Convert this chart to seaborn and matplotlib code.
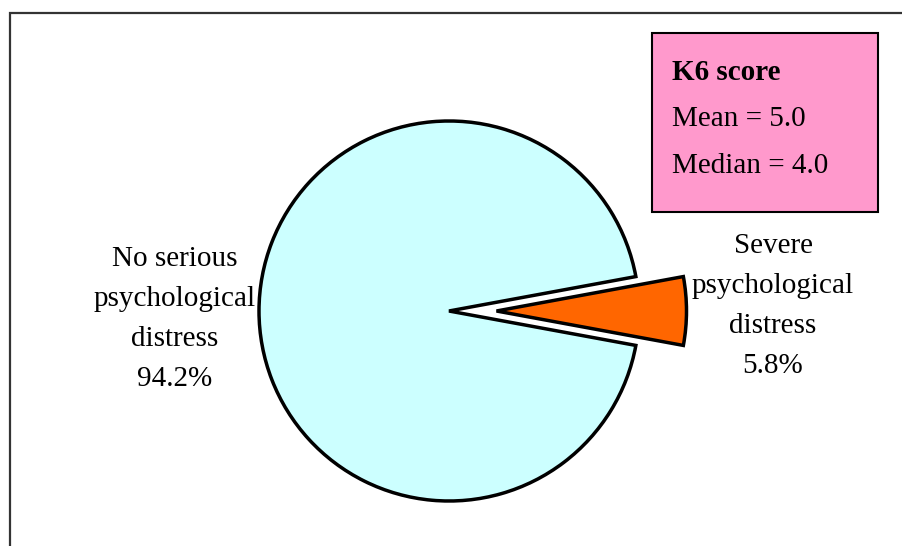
import matplotlib
matplotlib.use("Agg")
import matplotlib.pyplot as plt
from matplotlib.patches import Rectangle
import seaborn as sns

# Data
categories = ["Severe\npsychological\ndistress", "No serious\npsychological\ndistress"]
shares = [5.8, 94.2]
colors = ["#FF6600", "#CCFFFF"]
stats_title = "K6 score"
stats_lines = ["Mean = 5.0", "Median = 4.0"]

sns.set_style("white")
plt.rcParams["font.family"] = ["Liberation Serif", "DejaVu Serif"]
plt.rcParams["text.color"] = "black"

W, H = 902, 546
fig = plt.figure(figsize=(W / 100, H / 100), dpi=100)
ax = fig.add_axes([0, 0, 1, 1])

# outer frame (runs off right and bottom)
ax.add_patch(Rectangle((10, -20), 1000, H - 13 + 20, fill=False,
                       edgecolor="#333333", lw=1.6))

# pie: severe slice centred at 0 degrees, pulled out to the right
radius = 190
start = -shares[0] / sum(shares) * 360 / 2
ax.pie(shares, colors=colors, startangle=start, counterclock=True,
       explode=[0.25 * radius, 0], center=(449, H - 311), radius=radius,
       wedgeprops=dict(edgecolor="black", linewidth=2.5), frame=True)
ax.set_xlim(0, W)
ax.set_ylim(0, H)
ax.set_aspect("equal")
ax.axis("off")

fs = 21
ax.text(175, H - 319, f"{categories[1]}\n{shares[1]:.1f}%", ha="center",
        va="center", fontsize=fs, linespacing=1.7)
ax.text(773, H - 306, f"{categories[0]}\n{shares[0]:.1f}%", ha="center",
        va="center", fontsize=fs, linespacing=1.7)

# stats box
ax.add_patch(Rectangle((652, H - 212), 226, 179, facecolor="#FF99CC",
                       edgecolor="black", lw=1.5))
ax.text(672, H - 73, stats_title, fontsize=fs, fontweight="bold", va="center")
for i, line in enumerate(stats_lines):
    ax.text(672, H - 119 - i * 47, line, fontsize=fs, va="center")

fig.savefig("out.png", dpi=100)
